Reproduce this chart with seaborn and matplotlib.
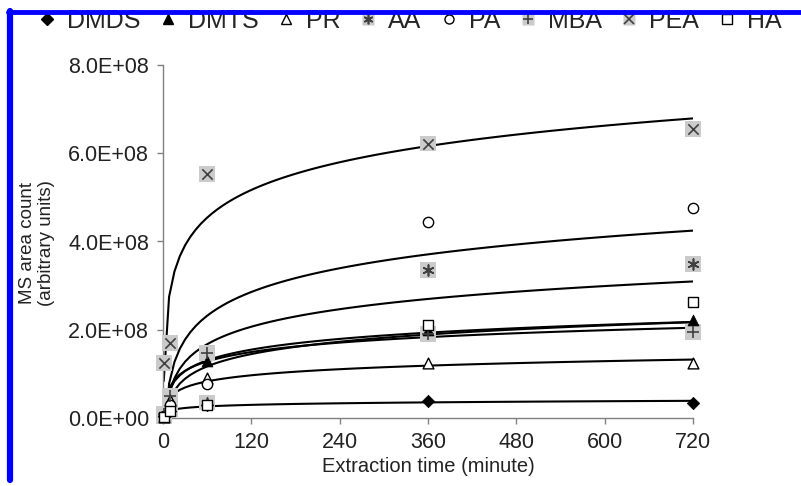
import matplotlib
matplotlib.use("Agg")
import matplotlib.pyplot as plt
import seaborn as sns
from matplotlib.lines import Line2D
from matplotlib.ticker import FuncFormatter, MultipleLocator

# extraction times (minute)
times = [1, 10, 60, 360, 720]

# MS area counts per compound
dmds = [0.05e8, 0.15e8, 0.30e8, 0.38e8, 0.35e8]
dmts = [0.05e8, 0.40e8, 1.30e8, 2.00e8, 2.22e8]
pr = [0.03e8, 0.40e8, 0.90e8, 1.25e8, 1.25e8]
aa = [0.05e8, 0.20e8, 0.35e8, 3.35e8, 3.49e8]
pa = [0.05e8, 0.30e8, 0.78e8, 4.45e8, 4.76e8]
mba = [0.10e8, 0.50e8, 1.47e8, 1.90e8, 1.95e8]
pea = [1.25e8, 1.70e8, 5.53e8, 6.22e8, 6.55e8]
ha = [0.02e8, 0.15e8, 0.30e8, 2.10e8, 2.63e8]

names = ["DMDS", "DMTS", "PR", "AA", "PA", "MBA", "PEA", "HA"]
values = [dmds, dmts, pr, aa, pa, mba, pea, ha]

# marker, size, filled, grey box behind
styles = {
    "DMDS": ("D", 40, True, False),
    "DMTS": ("^", 60, True, False),
    "PR": ("^", 60, False, False),
    "AA": ((6, 2, 0), 60, False, True),
    "PA": ("o", 55, False, False),
    "MBA": ("+", 70, False, True),
    "PEA": ("x", 55, False, True),
    "HA": ("s", 55, False, False),
}

sns.set_style("ticks")
plt.rcParams["font.family"] = ["Liberation Sans", "DejaVu Sans"]

fig = plt.figure(figsize=(8.01, 4.86), dpi=100)
ax = fig.add_axes([163 / 801, 68 / 486, 530 / 801, 353 / 486])

for name, vals in zip(names, values):
    sns.regplot(x=times, y=vals, logx=True, scatter=False, ci=None, ax=ax,
                color="black", line_kws={"lw": 1.5, "zorder": 2})

handles = []
for name, vals in zip(names, values):
    m, s, filled, box = styles[name]
    h = []
    if box:
        sns.scatterplot(x=times, y=vals, marker="s", s=130, color="#cbcbcb",
                        edgecolor="none", ax=ax, zorder=3, clip_on=False)
        h.append(Line2D([], [], ls="none", marker="s", ms=9, color="#cbcbcb", mec="none"))
    if filled:
        sns.scatterplot(x=times, y=vals, marker=m, s=s, color="black",
                        edgecolor="black", ax=ax, zorder=4, clip_on=False)
        h.append(Line2D([], [], ls="none", marker=m, ms=6.5, color="black"))
    elif m in ("x", "+", (6, 2, 0)):
        ax.scatter(times, vals, marker=m, s=s, color="#404040", linewidths=1.2,
                   zorder=4, clip_on=False)
        h.append(Line2D([], [], ls="none", marker=m, ms=7, color="#404040", mew=1.2))
    else:
        sns.scatterplot(x=times, y=vals, marker=m, s=s, facecolor="white",
                        edgecolor="black", linewidth=1.0, ax=ax, zorder=4, clip_on=False)
        h.append(Line2D([], [], ls="none", marker=m, ms=6.5, mfc="white", mec="black", mew=1.0))
    handles.append(tuple(h) if len(h) > 1 else h[0])

ax.set_xlim(0, 720)
ax.set_ylim(0, 8e8)
ax.xaxis.set_major_locator(MultipleLocator(120))
ax.yaxis.set_major_locator(MultipleLocator(2e8))
ax.yaxis.set_major_formatter(FuncFormatter(lambda v, p: f"{v:.1E}"))
for sp in ["top", "right"]:
    ax.spines[sp].set_visible(False)
for sp in ["left", "bottom"]:
    ax.spines[sp].set_color("#808080")
    ax.spines[sp].set_linewidth(1.0)
ax.tick_params(axis="both", length=4, width=1, color="#808080",
               labelsize=15.5, labelcolor="#222222", pad=6)
ax.set_xlabel("Extraction time (minute)", fontsize=14.5, color="#222222", labelpad=3)
ax.set_ylabel("")

fig.text(37 / 801, 0.5, "MS area count\n(arbitrary units)", rotation=90,
         ha="center", va="center", fontsize=13.5, color="#222222", linespacing=1.1)

fig.legend(handles, names, loc="center left", bbox_to_anchor=(38 / 801, 1 - 21 / 486),
           ncol=8, frameon=False, fontsize=18, handlelength=0.7, handletextpad=0.45,
           columnspacing=0.75, borderaxespad=0, borderpad=0)

# blue frame on left and top
fig.add_artist(Line2D([10 / 801, 10 / 801], [1 - 11 / 486, 1 - 480 / 486],
                      color="#0000ff", lw=4.5, transform=fig.transFigure, zorder=10))
fig.add_artist(Line2D([8 / 801, 1.0], [1 - 12 / 486, 1 - 12 / 486],
                      color="#0000ff", lw=3.5, transform=fig.transFigure, zorder=10))

fig.savefig("out.png", dpi=100)
